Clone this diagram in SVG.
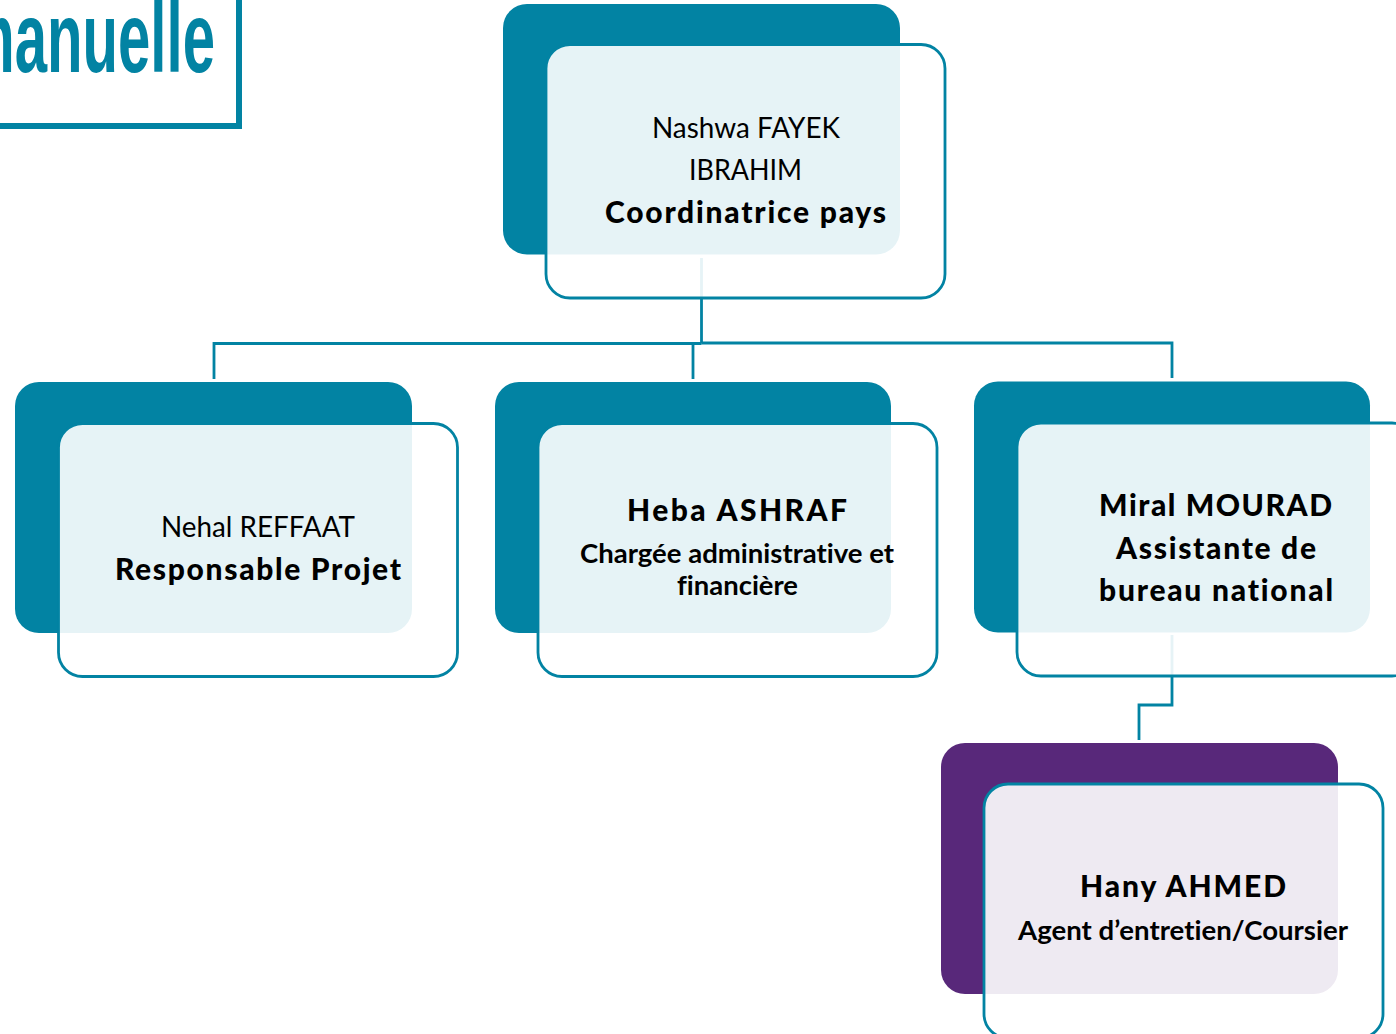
<svg xmlns="http://www.w3.org/2000/svg" width="1396" height="1034" viewBox="0 0 1396 1034">
<style>
.dark{fill:#0283a3}
.purple{fill:#58287a}
.outline{fill:#fff;fill-opacity:.9;stroke:#0283a3;stroke-width:2.8}
.conn{fill:none;stroke:#0283a3;stroke-width:2.8}
text{fill:#000;font-family:"Lato","Liberation Sans",sans-serif;font-variant-ligatures:none}
.name{font-size:28px;font-weight:400}
.bold{font-size:30px;font-weight:900}
.sub{font-size:27px;font-weight:700}
.logo{fill:#0283a3;font-family:"Liberation Sans",sans-serif;font-size:100px;font-weight:700}
</style>
<rect width="1396" height="1034" fill="#fff"/>
<g id="logo">
<text class="logo" x="-37" y="72" textLength="252" lengthAdjust="spacingAndGlyphs">manuelle</text>
<polyline points="0,126 239,126 239,0" fill="none" stroke="#0283a3" stroke-width="6"/>
</g>
<g id="connectors">
<path class="conn" d="M701.5 258V343.5"/>
<path class="conn" d="M701.5 343.5H214V379"/>
<path class="conn" d="M693 343.5V379"/>
<path class="conn" d="M701.5 343H1172V378"/>
<path class="conn" d="M1172 635V705H1139V740"/>
</g>
<g id="node-nashwa">
<rect class="dark" x="503" y="4" width="397" height="250.500" rx="24"/>
<rect class="outline" x="546" y="44.500" width="399" height="253.500" rx="24"/>
<text class="name" x="652" y="138" textLength="188" lengthAdjust="spacingAndGlyphs">Nashwa FAYEK</text>
<text class="name" x="689" y="180" textLength="113" lengthAdjust="spacingAndGlyphs">IBRAHIM</text>
<text class="bold" x="605" y="222.500" textLength="281">Coordinatrice pays</text>
</g>
<g id="node-nehal">
<rect class="dark" x="15" y="382" width="397" height="251" rx="24"/>
<rect class="outline" x="58.500" y="423.500" width="399" height="253" rx="24"/>
<text class="name" x="161" y="537" textLength="194" lengthAdjust="spacingAndGlyphs">Nehal REFFAAT</text>
<text class="bold" x="115" y="580" textLength="286">Responsable Projet</text>
</g>
<g id="node-heba">
<rect class="dark" x="495" y="382" width="396" height="251" rx="24"/>
<rect class="outline" x="538" y="423.500" width="399" height="253" rx="24"/>
<text class="bold" x="627" y="520.500" textLength="220">Heba ASHRAF</text>
<text class="sub" x="580" y="563" textLength="314" lengthAdjust="spacingAndGlyphs">Chargée administrative et</text>
<text class="sub" x="677" y="595" textLength="121" lengthAdjust="spacingAndGlyphs">financière</text>
</g>
<g id="node-miral">
<rect class="dark" x="974" y="381.500" width="396" height="251" rx="24"/>
<rect class="outline" x="1017" y="423" width="399" height="253" rx="24"/>
<text class="bold" x="1099" y="515.500" textLength="233">Miral MOURAD</text>
<text class="bold" x="1116" y="558.500" textLength="200">Assistante de</text>
<text class="bold" x="1099" y="600.500" textLength="234">bureau national</text>
</g>
<g id="node-hany">
<rect class="purple" x="941" y="743" width="397" height="251" rx="24"/>
<rect class="outline" x="984" y="784" width="399" height="254" rx="24"/>
<text class="bold" x="1080" y="897" textLength="206">Hany AHMED</text>
<text class="sub" x="1018" y="940" textLength="330" lengthAdjust="spacingAndGlyphs">Agent d’entretien/Coursier</text>
</g>
</svg>
